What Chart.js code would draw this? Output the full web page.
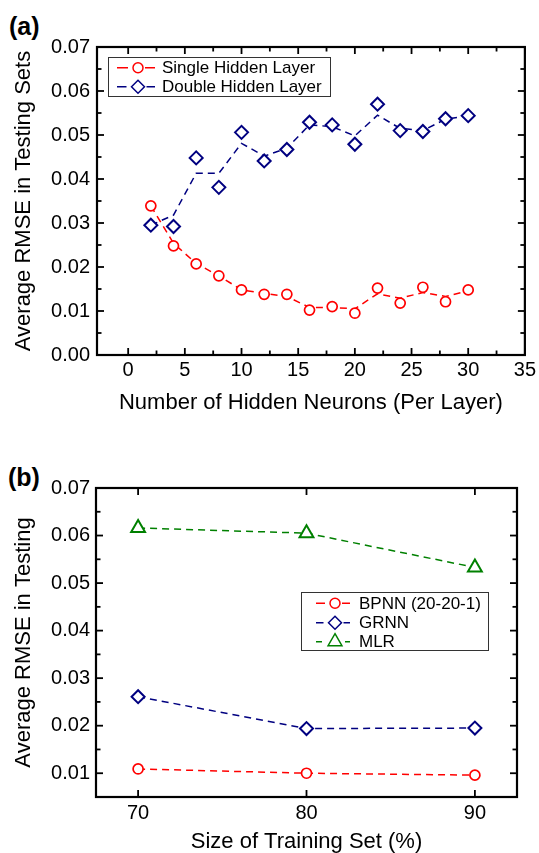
<!DOCTYPE html>
<html>
<head>
<meta charset="utf-8">
<script src="https://cdn.jsdelivr.net/npm/chart.js@4/dist/chart.umd.min.js"></script>
<style>
  html, body { margin: 0; padding: 0; background: #fff; }
  #page { position: relative; width: 539px; height: 853px; overflow: hidden; }
  canvas { position: absolute; left: 0; }
  .panel { position: absolute; font: bold 25px "Liberation Sans", Arial, sans-serif; line-height: 1; color: #000; }
</style>
</head>
<body>
<div id="page">
  <div class="panel" style="left:9px; top:14px;">(a)</div>
  <canvas id="chart-a" width="539" height="425" style="top:0;"></canvas>
  <div class="panel" style="left:8px; top:465px;">(b)</div>
  <canvas id="chart-b" width="539" height="428" style="top:425px;"></canvas>
</div>
<script>
// (a) hidden neurons vs RMSE
const neurons = [2, 4, 6, 8, 10, 12, 14, 16, 18, 20, 22, 24, 26, 28, 30];
const singleRmse = [0.0339, 0.0248, 0.0207, 0.0180, 0.0148, 0.0138, 0.0138, 0.0102, 0.0110, 0.0095, 0.0152, 0.0118, 0.0154, 0.0121, 0.0148];
const doubleRmse = [0.0295, 0.0292, 0.0448, 0.0381, 0.0506, 0.0441, 0.0467, 0.0529, 0.0523, 0.0479, 0.0570, 0.0510, 0.0508, 0.0537, 0.0544];
// smoothed dashed curves as drawn in the figure
const singleCurve = [0.0339, 0.0254, 0.0208, 0.0180, 0.0148, 0.0140, 0.0133, 0.0108, 0.0108, 0.0105, 0.0139, 0.0129, 0.0142, 0.0133, 0.0146];
const doubleCurve = [0.0295, 0.0318, 0.0413, 0.0413, 0.0481, 0.0452, 0.0470, 0.0523, 0.0519, 0.0498, 0.0545, 0.0515, 0.0510, 0.0536, 0.0544];
const xTicksA = [0, 5, 10, 15, 20, 25, 30, 35];
const yTicksA = [0, 0.01, 0.02, 0.03, 0.04, 0.05, 0.06, 0.07];

// (b) training set size vs RMSE
const trainSize = [70, 80, 90];
const bpnnRmse = [0.0109, 0.0100, 0.0096];
const grnnRmse = [0.0261, 0.0194, 0.0195];
const mlrRmse = [0.0616, 0.0605, 0.0533];
const xTicksB = [70, 80, 90];
const yTicksB = [0.01, 0.02, 0.03, 0.04, 0.05, 0.06, 0.07];

const RED = '#ff0000';
const NAVY = '#000080';
const GREEN = '#008000';
const FONT = '"Liberation Sans", Arial, sans-serif';

const pts = (xs, ys) => xs.map((x, i) => ({ x: x, y: ys[i] }));
const mids = (arr) => arr.slice(1).map((v, i) => (v + arr[i]) / 2);

// box frame with inward ticks on all four sides
const frame = {
  id: 'frame',
  afterDraw(chart, args, o) {
    const { ctx, chartArea: a, scales: { x, y } } = chart;
    ctx.save();
    ctx.strokeStyle = '#000';
    ctx.lineWidth = 2.2;
    ctx.strokeRect(a.left, a.top, a.right - a.left, a.bottom - a.top);
    ctx.lineWidth = 1.8;
    const seg = (x0, y0, x1, y1) => { ctx.beginPath(); ctx.moveTo(x0, y0); ctx.lineTo(x1, y1); ctx.stroke(); };
    const xt = (vals, len) => vals.forEach(v => {
      const p = x.getPixelForValue(v);
      seg(p, a.bottom, p, a.bottom - len);
      seg(p, a.top, p, a.top + len);
    });
    const yt = (vals, len) => vals.forEach(v => {
      const p = y.getPixelForValue(v);
      seg(a.left, p, a.left + len, p);
      seg(a.right, p, a.right - len, p);
    });
    xt(o.xMajor, 7);
    xt(o.xMinor || [], 4.5);
    yt(o.yMajor, 7);
    yt(o.yMinor || [], 4.5);
    ctx.restore();
  }
};

// legend box drawn inside the plot, line-marker-line samples
const boxLegend = {
  id: 'boxLegend',
  afterDraw(chart, args, o) {
    const ctx = chart.ctx;
    ctx.save();
    ctx.fillStyle = '#fff';
    ctx.fillRect(o.left, o.top, o.width, o.height);
    ctx.strokeStyle = '#333';
    ctx.lineWidth = 1;
    ctx.strokeRect(o.left + 0.5, o.top + 0.5, o.width, o.height);
    o.items.forEach((it, i) => {
      const cy = o.rowY[i];
      ctx.strokeStyle = it.color;
      ctx.lineWidth = 1.5;
      ctx.beginPath();
      ctx.moveTo(o.lineX0, cy); ctx.lineTo(o.markX - it.radius - 5, cy);
      ctx.moveTo(o.markX + it.radius + 2, cy); ctx.lineTo(o.lineX1, cy);
      ctx.stroke();
      ctx.fillStyle = '#fff';
      Chart.helpers.drawPoint(ctx, { pointStyle: it.style, radius: it.radius, borderWidth: it.bw, rotation: 0 }, o.markX, cy);
      ctx.fillStyle = '#000';
      ctx.font = '17px ' + FONT;
      ctx.textBaseline = 'middle';
      ctx.textAlign = 'left';
      ctx.fillText(it.label, o.textX, cy + 1);
    });
    ctx.restore();
  }
};

function marks(data, color, style, radius, bw) {
  return {
    data: data,
    showLine: false,
    borderColor: color,
    backgroundColor: '#fff',
    pointStyle: style,
    pointRadius: radius,
    pointBorderWidth: bw,
    pointBorderColor: color,
    pointBackgroundColor: '#fff',
    order: 0,
  };
}

function dashed(data, color, order) {
  return {
    data: data,
    borderColor: color,
    borderWidth: 1.5,
    borderDash: [7, 5],
    pointRadius: 0,
    tension: 0,
    fill: false,
    order: order,
  };
}

function axisX(min, max, ticks, title, padTick, padTitle) {
  return {
    type: 'linear',
    min: min,
    max: max,
    afterBuildTicks: (s) => { s.ticks = ticks.map(v => ({ value: v })); },
    grid: { display: false, drawTicks: false },
    border: { display: false },
    ticks: { color: '#000', font: { family: FONT, size: 20, lineHeight: 1.2 }, padding: padTick, maxRotation: 0, autoSkip: false },
    title: { display: true, text: title, color: '#000', font: { family: FONT, size: 22, lineHeight: 1 }, padding: { top: 0, bottom: padTitle } },
  };
}

function axisY(min, max, ticks, title, padTick) {
  return {
    min: min,
    max: max,
    afterBuildTicks: (s) => { s.ticks = ticks.map(v => ({ value: v })); },
    grid: { display: false, drawTicks: false },
    border: { display: false },
    ticks: { color: '#000', font: { family: FONT, size: 20 }, padding: padTick, callback: (v) => Number(v).toFixed(2) },
    title: { display: true, text: title, color: '#000', font: { family: FONT, size: 22, lineHeight: 1 }, padding: { top: 13, bottom: 0 } },
  };
}

// chart (a)
const scalesA = {
  x: axisX(-2.75, 35, xTicksA, 'Number of Hidden Neurons (Per Layer)', 3, 11),
  y: axisY(0, 0.07, yTicksA, 'Average RMSE in Testing Sets', 7),
};
scalesA.x.afterFit = (s) => { s.height = 70; };
scalesA.y.afterFit = (s) => { s.width = 97; };

new Chart(document.getElementById('chart-a').getContext('2d'), {
  type: 'line',
  data: {
    datasets: [
      marks(pts(neurons, singleRmse), RED, 'circle', 5, 1.7),
      marks(pts(neurons, doubleRmse), NAVY, 'rectRot', 6.5, 2),
      dashed(pts(neurons, singleCurve), RED, 1),
      dashed(pts(neurons, doubleCurve), NAVY, 1),
    ],
  },
  options: {
    responsive: false,
    animation: false,
    layout: { padding: { top: 47, right: 12, left: 0, bottom: 0 } },
    scales: scalesA,
    plugins: {
      legend: { display: false },
      tooltip: { enabled: false },
      frame: { xMajor: xTicksA, xMinor: mids(xTicksA), yMajor: yTicksA, yMinor: mids(yTicksA) },
      boxLegend: {
        left: 108, top: 57, width: 222, height: 39,
        lineX0: 117, lineX1: 155, markX: 138, textX: 162,
        rowY: [67.7, 86.7],
        items: [
          { label: 'Single Hidden Layer', color: RED, style: 'circle', radius: 5, bw: 1.7 },
          { label: 'Double Hidden Layer', color: NAVY, style: 'rectRot', radius: 6.5, bw: 2 },
        ],
      },
    },
  },
  plugins: [frame, boxLegend],
});

// chart (b)
const scalesB = {
  x: axisX(67.5, 92.5, xTicksB, 'Size of Training Set (%)', 4, 0),
  y: axisY(0.005, 0.07, yTicksB, 'Average RMSE in Testing', 6),
};
scalesB.x.afterFit = (s) => { s.height = 56; };
scalesB.y.afterFit = (s) => { s.width = 96; };

new Chart(document.getElementById('chart-b').getContext('2d'), {
  type: 'line',
  data: {
    datasets: [
      marks(pts(trainSize, bpnnRmse), RED, 'circle', 5, 1.7),
      marks(pts(trainSize, grnnRmse), NAVY, 'rectRot', 6.5, 2),
      marks(pts(trainSize, mlrRmse), GREEN, 'triangle', 8, 2),
      dashed(pts(trainSize, bpnnRmse), RED, 1),
      dashed(pts(trainSize, grnnRmse), NAVY, 1),
      dashed(pts(trainSize, mlrRmse), GREEN, 1),
    ],
  },
  options: {
    responsive: false,
    animation: false,
    layout: { padding: { top: 63, right: 22, left: 0, bottom: 0 } },
    scales: scalesB,
    plugins: {
      legend: { display: false },
      tooltip: { enabled: false },
      frame: { xMajor: xTicksB, yMajor: yTicksB, yMinor: [0.005].concat(mids(yTicksB)) },
      boxLegend: {
        left: 301, top: 167, width: 187, height: 58,
        lineX0: 316, lineX1: 350, markX: 335, textX: 359,
        rowY: [178.3, 197.7, 216.7],
        items: [
          { label: 'BPNN (20-20-1)', color: RED, style: 'circle', radius: 5, bw: 1.7 },
          { label: 'GRNN', color: NAVY, style: 'rectRot', radius: 6.5, bw: 2 },
          { label: 'MLR', color: GREEN, style: 'triangle', radius: 8, bw: 2 },
        ],
      },
    },
  },
  plugins: [frame, boxLegend],
});
</script>
</body>
</html>
